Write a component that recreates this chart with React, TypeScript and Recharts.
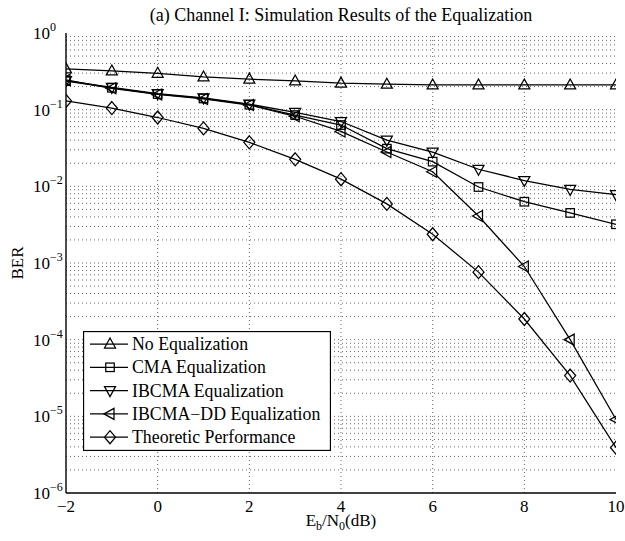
import React from 'react';
import { LineChart, Line, XAxis, YAxis, ReferenceLine, Legend } from 'recharts';

// ---- data ----
const ebn0 = [-2, -1, 0, 1, 2, 3, 4, 5, 6, 7, 8, 9, 10];
const noEqualization = [0.34, 0.32, 0.298, 0.267, 0.25, 0.237, 0.222, 0.215, 0.21, 0.21, 0.21, 0.21, 0.21];
const cmaEqualization = [0.235, 0.193, 0.16, 0.14, 0.116, 0.085, 0.063, 0.031, 0.021, 0.0098, 0.0063, 0.0045, 0.0032];
const ibcmaEqualization = [0.24, 0.195, 0.162, 0.142, 0.118, 0.092, 0.07, 0.04, 0.028, 0.0167, 0.0119, 0.0091, 0.0078];
const ibcmaDDEqualization = [0.245, 0.19, 0.158, 0.138, 0.115, 0.082, 0.052, 0.028, 0.0155, 0.0041, 0.0009, 0.0001, 0.0000091];
const theoreticPerformance = [0.13, 0.105, 0.079, 0.057, 0.0375, 0.0225, 0.0124, 0.0059, 0.00237, 0.00076, 0.000186, 0.000034, 0.0000039];

const xTicks = [-2, 0, 2, 4, 6, 8, 10];
const yDecades = [1e-6, 1e-5, 1e-4, 1e-3, 1e-2, 1e-1, 1];
const yExponents = ['\u22126', '\u22125', '\u22124', '\u22123', '\u22122', '\u22121', '0'];
const minorMultipliers = [2, 3, 4, 5, 6, 7, 8, 9];
const yMinor = yDecades.slice(0, 6).flatMap((d) => minorMultipliers.map((m) => m * d));
const yGrid = [...yDecades.slice(1, 6), ...yMinor];
const xGrid = [0, 2, 4, 6, 8];

const titleText = '(a) Channel I: Simulation Results of the Equalization';

const seriesNames = ['No Equalization', 'CMA Equalization', 'IBCMA Equalization', 'IBCMA\u2212DD Equalization', 'Theoretic Performance'];
const seriesKeys = ['noEq', 'cma', 'ibcma', 'ibcmaDD', 'theo'];
const seriesShapes = ['up', 'square', 'down', 'left', 'diamond'];
const seriesValues = [noEqualization, cmaEqualization, ibcmaEqualization, ibcmaDDEqualization, theoreticPerformance];

const data = ebn0.map((x, i) => {
  const row: any = { x };
  seriesKeys.forEach((k, j) => {
    row[k] = seriesValues[j][i];
  });
  return row;
});

const FONT = 'Liberation Serif, DejaVu Serif, serif';

const Marker = ({ cx, cy, shape }: { cx: number; cy: number; shape: string }) => {
  const common = { fill: 'none', stroke: '#000', strokeWidth: 1.25 };
  if (cx == null || cy == null) return <g />;
  switch (shape) {
    case 'up':
      return <polygon {...common} points={`${cx},${cy - 6} ${cx + 5.5},${cy + 4} ${cx - 5.5},${cy + 4}`} />;
    case 'down':
      return <polygon {...common} points={`${cx},${cy + 6} ${cx + 5.5},${cy - 4} ${cx - 5.5},${cy - 4}`} />;
    case 'left':
      return <polygon {...common} points={`${cx - 6},${cy} ${cx + 4},${cy - 5.5} ${cx + 4},${cy + 5.5}`} />;
    case 'square':
      return <rect {...common} x={cx - 4.25} y={cy - 4.25} width={8.5} height={8.5} />;
    case 'diamond':
    default:
      return <polygon {...common} points={`${cx},${cy - 6.5} ${cx + 5.5},${cy} ${cx},${cy + 6.5} ${cx - 5.5},${cy}`} />;
  }
};

const emptyTick = () => <g />;

const XTick = (props: any) => {
  const { x, payload } = props;
  const v = payload.value;
  const label = v < 0 ? `\u2212${Math.abs(v)}` : `${v}`;
  return (
    <text x={x} y={512} textAnchor="middle" style={{ fontFamily: FONT }} fontSize={17} fill="#000">
      {label}
    </text>
  );
};

const YTick = (props: any) => {
  const { y, payload } = props;
  const idx = yDecades.findIndex((d) => Math.abs(d - payload.value) < d * 1e-6);
  const exp = idx >= 0 ? yExponents[idx] : '';
  return (
    <text x={33} y={y + 6} textAnchor="start" style={{ fontFamily: FONT }} fontSize={17} fill="#000">
      10
      <tspan dy={-8} fontSize={12}>
        {exp}
      </tspan>
    </text>
  );
};

const XLabel = (props: any) => {
  const vb = props.viewBox || { x: 66, y: 493, width: 550 };
  const cx = vb.x + vb.width / 2;
  return (
    <text x={cx} y={526} textAnchor="middle" style={{ fontFamily: FONT }} fontSize={17} fill="#000">
      E
      <tspan dy={4} fontSize={12}>b</tspan>
      <tspan dy={-4}>/N</tspan>
      <tspan dy={4} fontSize={12}>0</tspan>
      <tspan dy={-4}>(dB)</tspan>
    </text>
  );
};

const YLabel = (props: any) => {
  const vb = props.viewBox || { y: 33, height: 460 };
  const cy = vb.y + vb.height / 2;
  return (
    <text x={23} y={cy} transform={`rotate(-90 23 ${cy})`} textAnchor="middle" style={{ fontFamily: FONT }} fontSize={17} fill="#000">
      BER
    </text>
  );
};

const LegendBox = () => {
  const rowH = 23.3;
  return (
    <svg width={248} height={120} style={{ display: 'block' }}>
      <rect x={0.5} y={0.5} width={247} height={119} fill="#fff" stroke="#000" strokeWidth={1.3} />
      {seriesNames.map((name, i) => {
        const y = 13 + i * rowH;
        return (
          <g key={seriesKeys[i]}>
            <line x1={7} x2={45} y1={y} y2={y} stroke="#000" strokeWidth={1.25} />
            <Marker cx={27} cy={y} shape={seriesShapes[i]} />
            <text x={49} y={y + 6} style={{ fontFamily: FONT }} fontSize={17.8} fill="#000">
              {name}
            </text>
          </g>
        );
      })}
    </svg>
  );
};

export default function App() {
  return (
    <div style={{ position: 'absolute', left: 0, top: 0, width: 625, height: 541, background: '#fff', fontFamily: FONT }}>
      <div
        style={{
          position: 'absolute',
          left: 0,
          top: 4,
          width: 682,
          textAlign: 'center',
          fontFamily: FONT,
          fontSize: 18,
          lineHeight: '22px',
          color: '#000',
          zIndex: 2,
        }}
      >
        {titleText}
      </div>
      <LineChart width={625} height={541} data={data} margin={{ top: 33, right: 9, bottom: 0, left: 0 }}>
        {yGrid.map((v) => (
          <ReferenceLine key={`gy-${v}`} y={v} stroke="#666" strokeWidth={1} strokeDasharray="1 3" />
        ))}
        {xGrid.map((v) => (
          <ReferenceLine key={`gx-${v}`} x={v} stroke="#666" strokeWidth={1} strokeDasharray="1 3" />
        ))}
        <XAxis
          dataKey="x"
          type="number"
          domain={[-2, 10]}
          ticks={xTicks}
          interval={0}
          allowDataOverflow
          height={48}
          tickLine={false}
          axisLine={{ stroke: '#000', strokeWidth: 1.4 }}
          tick={XTick}
          label={XLabel}
        />
        <XAxis
          xAxisId="bottomTicks"
          type="number"
          orientation="bottom"
          mirror
          domain={[-2, 10]}
          ticks={xTicks}
          interval={0}
          allowDataOverflow
          height={0}
          tickSize={6}
          axisLine={false}
          tickLine={{ stroke: '#000' }}
          tick={emptyTick}
        />
        <XAxis
          xAxisId="topTicks"
          type="number"
          orientation="top"
          mirror
          domain={[-2, 10]}
          ticks={xTicks}
          interval={0}
          allowDataOverflow
          height={0}
          tickSize={6}
          axisLine={{ stroke: '#000', strokeWidth: 1.4 }}
          tickLine={{ stroke: '#000' }}
          tick={emptyTick}
        />
        <YAxis
          type="number"
          scale="log"
          domain={[1e-6, 1]}
          ticks={yDecades}
          interval={0}
          allowDataOverflow
          width={66}
          tickLine={false}
          axisLine={{ stroke: '#000', strokeWidth: 1.4 }}
          tick={YTick}
          label={YLabel}
        />
        <YAxis
          yAxisId="leftMajor"
          type="number"
          scale="log"
          orientation="left"
          mirror
          domain={[1e-6, 1]}
          ticks={yDecades}
          interval={0}
          allowDataOverflow
          width={0}
          tickSize={6}
          axisLine={false}
          tickLine={{ stroke: '#000' }}
          tick={emptyTick}
        />
        <YAxis
          yAxisId="leftMinor"
          type="number"
          scale="log"
          orientation="left"
          mirror
          domain={[1e-6, 1]}
          ticks={yMinor}
          interval={0}
          allowDataOverflow
          width={0}
          tickSize={3}
          axisLine={false}
          tickLine={{ stroke: '#000' }}
          tick={emptyTick}
        />
        <YAxis
          yAxisId="rightMajor"
          type="number"
          scale="log"
          orientation="right"
          mirror
          domain={[1e-6, 1]}
          ticks={yDecades}
          interval={0}
          allowDataOverflow
          width={0}
          tickSize={6}
          axisLine={{ stroke: '#000', strokeWidth: 1.4 }}
          tickLine={{ stroke: '#000' }}
          tick={emptyTick}
        />
        <YAxis
          yAxisId="rightMinor"
          type="number"
          scale="log"
          orientation="right"
          mirror
          domain={[1e-6, 1]}
          ticks={yMinor}
          interval={0}
          allowDataOverflow
          width={0}
          tickSize={3}
          axisLine={false}
          tickLine={{ stroke: '#000' }}
          tick={emptyTick}
        />
        {seriesKeys.map((k, j) => (
          <Line
            key={k}
            dataKey={k}
            name={seriesNames[j]}
            type="linear"
            stroke="#000"
            strokeWidth={1.25}
            isAnimationActive={false}
            activeDot={false}
            dot={(p: any) => <Marker key={`${k}-${p.index}`} cx={p.cx} cy={p.cy} shape={seriesShapes[j]} />}
          />
        ))}
        <Legend
          layout="vertical"
          align="center"
          verticalAlign="middle"
          content={LegendBox}
          wrapperStyle={{ position: 'absolute', left: 83, top: 331, width: 248, height: 120 }}
        />
      </LineChart>
    </div>
  );
}
